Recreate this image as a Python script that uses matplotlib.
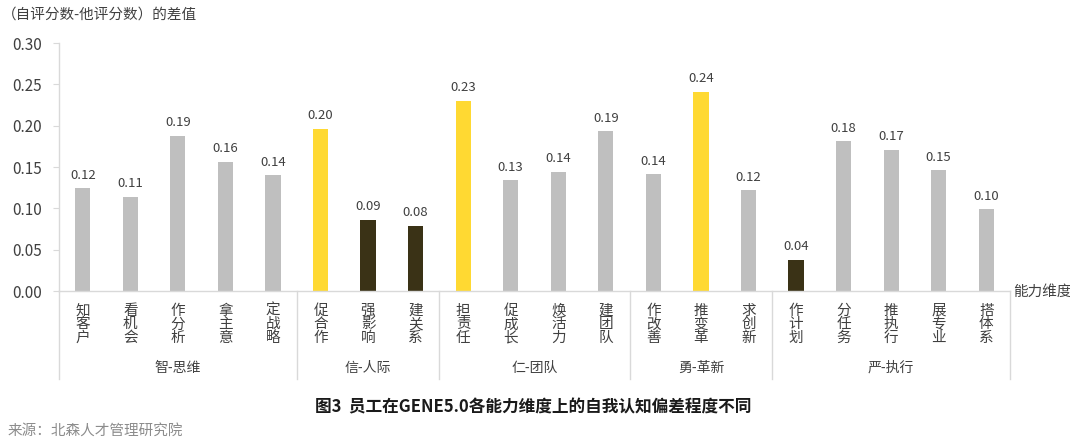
import numpy as np
import matplotlib
matplotlib.use('Agg')
import matplotlib.pyplot as plt
import matplotlib.transforms as mtransforms

plt.rcParams['font.family'] = ['Noto Sans CJK SC', 'DejaVu Sans']

#----------------------------------------------------- DATA
categories = ['知客户', '看机会', '作分析', '拿主意', '定战略',
              '促合作', '强影响', '建关系',
              '担责任', '促成长', '焕活力', '建团队',
              '作改善', '推变革', '求创新',
              '作计划', '分任务', '推执行', '展专业', '搭体系']
values = [0.124, 0.114, 0.188, 0.156, 0.140,
          0.196, 0.086, 0.079,
          0.230, 0.134, 0.144, 0.193,
          0.141, 0.241, 0.122,
          0.038, 0.181, 0.171, 0.146, 0.099]
# g = grey, y = yellow (high), d = dark (low)
kinds = ['g', 'g', 'g', 'g', 'g',
         'y', 'd', 'd',
         'y', 'g', 'g', 'g',
         'g', 'y', 'g',
         'd', 'g', 'g', 'g', 'g']
groups = ['智-思维', '信-人际', '仁-团队', '勇-革新', '严-执行']
group_sizes = [5, 3, 4, 3, 5]
yticks = [0.00, 0.05, 0.10, 0.15, 0.20, 0.25, 0.30]

colmap = {'g': '#BFBFBF', 'y': '#FFD932', 'd': '#3A3216'}
txtcol = '#404040'
linecol = '#D9D9D9'

#----------------------------------------------------- FIGURE
fig = plt.figure(figsize=(10.70, 4.44), dpi=100)
ax = fig.add_axes([59/1070, 1-291/444, (1010-59)/1070, (291-43)/444])

x = np.arange(len(categories))
ax.bar(x, values, width=0.32, color=[colmap[k] for k in kinds], zorder=2)

for xi, v in zip(x, values):
    ax.text(xi, v + 0.008, '%.2f' % v, ha='center', va='bottom',
            fontsize=9.5, color=txtcol)

ax.set_xlim(-0.5, len(categories) - 0.5)
ax.set_ylim(0, 0.30)
ax.set_yticks(yticks)
ax.set_yticklabels(['%.2f' % t for t in yticks], fontsize=11, color=txtcol)
ax.tick_params(axis='y', length=4, color=linecol, pad=8)
ax.set_xticks([])

for s in ['top', 'right']:
    ax.spines[s].set_visible(False)
for s in ['left', 'bottom']:
    ax.spines[s].set_color(linecol)
    ax.spines[s].set_linewidth(1.0)

# category labels, vertical stacked characters
trans = mtransforms.blended_transform_factory(ax.transData, ax.transAxes)
for xi, c in zip(x, categories):
    ax.text(xi, -0.052, '\n'.join(c), transform=trans, ha='center', va='top',
            fontsize=10.5, color=txtcol, linespacing=0.95)

# group separators and labels
bounds = np.concatenate([[0], np.cumsum(group_sizes)]) - 0.5
for b in bounds:
    ax.plot([b, b], [0, -0.353], transform=trans, color=linecol,
            linewidth=1.0, clip_on=False)
for i, g in enumerate(groups):
    mid = (bounds[i] + bounds[i + 1]) / 2
    ax.text(mid, -0.31, g, transform=trans, ha='center', va='center',
            fontsize=10, color=txtcol)

#----------------------------------------------------- TEXTS
fig.text(1013/1070, 1-292/444, '能力维度', ha='left', va='center',
         fontsize=10.5, color=txtcol)
fig.text(2/1070, 1-15/444, '（自评分数-他评分数）的差值', ha='left', va='center',
         fontsize=10.5, color=txtcol)
fig.text(533/1070, 1-407/444, '图3  员工在GENE5.0各能力维度上的自我认知偏差程度不同',
         ha='center', va='center', fontsize=12, fontweight='bold', color='#1A1A1A')
fig.text(8/1070, 1-432/444, '来源：北森人才管理研究院', ha='left', va='center',
         fontsize=10.5, color='#8C8C8C')

fig.savefig('out.png', dpi=100)
